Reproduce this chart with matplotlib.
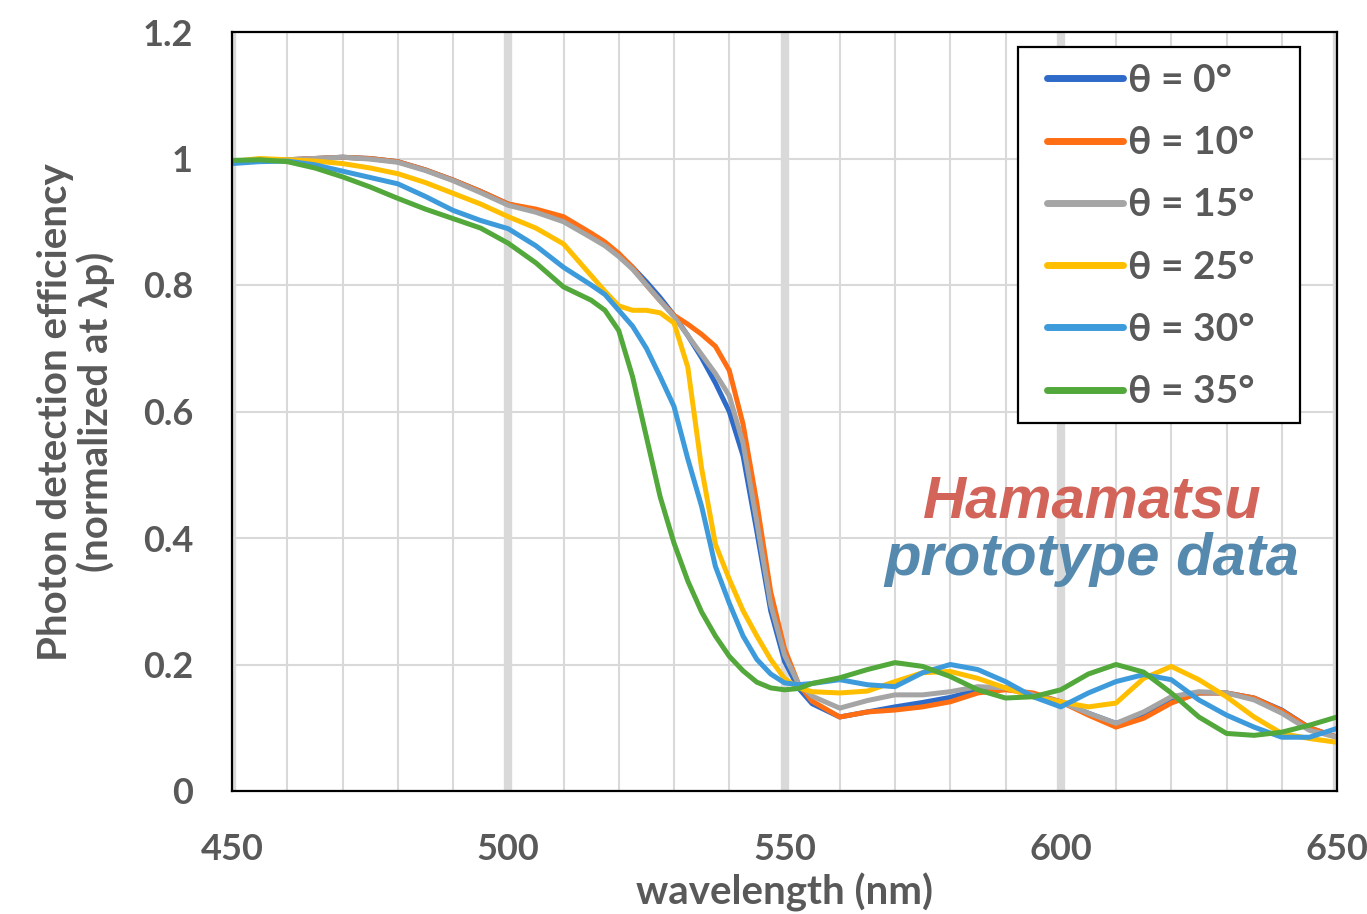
import matplotlib
matplotlib.use("Agg")
import matplotlib.pyplot as plt
from matplotlib.patches import Rectangle

# wavelength grid (nm), finer through the steep edge
wavelength = [450, 455, 460, 465, 470, 475, 480, 485, 490, 495, 500, 505, 510, 515,
              517.5, 520, 522.5, 525, 527.5, 530, 532.5, 535, 537.5, 540, 542.5,
              545, 547.5, 550, 552.5,
              555, 560, 565, 570, 575, 580, 585, 590, 595, 600, 605, 610, 615,
              620, 625, 630, 635, 640, 645, 650]

theta0 = [0.995, 0.996, 0.998, 1.000, 1.002, 1.000, 0.995, 0.982, 0.966, 0.948, 0.928, 0.918, 0.905, 0.880,
          0.865, 0.848, 0.828, 0.805, 0.780, 0.752, 0.720, 0.685, 0.645, 0.600, 0.530,
          0.410, 0.285, 0.205, 0.163,
          0.138, 0.117, 0.125, 0.133, 0.140, 0.148, 0.160, 0.163, 0.152, 0.141, 0.123, 0.107, 0.120,
          0.142, 0.155, 0.155, 0.147, 0.128, 0.100, 0.085]

theta10 = [0.995, 0.996, 0.998, 1.000, 1.002, 1.000, 0.995, 0.982, 0.966, 0.948, 0.928, 0.920, 0.908, 0.882,
           0.868, 0.850, 0.828, 0.800, 0.775, 0.752, 0.738, 0.722, 0.703, 0.665, 0.580,
           0.455, 0.315, 0.225, 0.170,
           0.142, 0.117, 0.125, 0.128, 0.133, 0.141, 0.155, 0.160, 0.155, 0.141, 0.120, 0.101, 0.115,
           0.139, 0.155, 0.155, 0.147, 0.127, 0.100, 0.085]

theta15 = [0.995, 0.996, 0.998, 1.000, 1.002, 0.999, 0.994, 0.981, 0.965, 0.946, 0.926, 0.915, 0.900, 0.875,
           0.862, 0.845, 0.825, 0.800, 0.775, 0.750, 0.720, 0.690, 0.660, 0.625, 0.550,
           0.425, 0.295, 0.215, 0.170,
           0.150, 0.131, 0.143, 0.152, 0.152, 0.157, 0.165, 0.163, 0.152, 0.141, 0.123, 0.107, 0.125,
           0.149, 0.157, 0.155, 0.144, 0.123, 0.096, 0.085]

theta25 = [0.995, 1.000, 0.998, 0.996, 0.992, 0.985, 0.976, 0.962, 0.945, 0.928, 0.908, 0.890, 0.865, 0.815,
           0.790, 0.767, 0.760, 0.760, 0.756, 0.740, 0.670, 0.510, 0.390, 0.335, 0.285,
           0.245, 0.208, 0.178, 0.163,
           0.157, 0.155, 0.158, 0.173, 0.187, 0.189, 0.178, 0.163, 0.149, 0.141, 0.133, 0.139, 0.178,
           0.197, 0.176, 0.149, 0.117, 0.091, 0.083, 0.077]

theta30 = [0.992, 0.995, 0.996, 0.990, 0.980, 0.970, 0.960, 0.940, 0.918, 0.902, 0.889, 0.862, 0.828, 0.800,
           0.785, 0.760, 0.735, 0.700, 0.655, 0.608, 0.525, 0.450, 0.355, 0.297, 0.245,
           0.208, 0.185, 0.171, 0.168,
           0.170, 0.176, 0.168, 0.165, 0.187, 0.200, 0.192, 0.173, 0.149, 0.133, 0.155, 0.173, 0.184,
           0.176, 0.144, 0.120, 0.101, 0.085, 0.085, 0.099]

theta35 = [0.997, 0.998, 0.995, 0.985, 0.971, 0.955, 0.937, 0.920, 0.905, 0.890, 0.866, 0.835, 0.797, 0.776,
           0.760, 0.728, 0.655, 0.560, 0.465, 0.392, 0.332, 0.283, 0.245, 0.213, 0.190,
           0.172, 0.163, 0.160, 0.162,
           0.170, 0.179, 0.192, 0.203, 0.197, 0.181, 0.160, 0.147, 0.149, 0.160, 0.185, 0.200, 0.188,
           0.155, 0.117, 0.091, 0.088, 0.093, 0.104, 0.117]

series = [theta0, theta10, theta15, theta25, theta30, theta35]
labels = ["θ = 0°", "θ = 10°", "θ = 15°", "θ = 25°", "θ = 30°", "θ = 35°"]
colors = ["#2e6bc8", "#ff6e12", "#a5a5a5", "#ffbf00", "#3d9bdb", "#52a83a"]

FONT = ["Lato", "DejaVu Sans"]
TXT = "#595959"
plt.rcParams["font.family"] = FONT
plt.rcParams["font.weight"] = "bold"

W, H = 1367, 914
fig = plt.figure(figsize=(W / 100, H / 100), dpi=100)
ax = fig.add_axes([232 / W, 1 - 791 / H, (1337 - 232) / W, (791 - 32) / H])

for y, lab, c in zip(series, labels, colors):
    ax.plot(wavelength, y, color=c, lw=3.6, label=lab,
            solid_capstyle="round", solid_joinstyle="round")

ax.set_xlim(450, 650)
ax.set_ylim(0, 1.2)
ax.set_xticks([450, 500, 550, 600, 650])
ax.set_xticks(range(450, 651, 10), minor=True)
ax.set_yticks([0, 0.2, 0.4, 0.6, 0.8, 1.0, 1.2])
ax.set_yticklabels(["0", "0.2", "0.4", "0.6", "0.8", "1", "1.2"])

ax.grid(axis="x", which="major", color="#d9d9d9", lw=6)
ax.grid(axis="x", which="minor", color="#d9d9d9", lw=1.5)
ax.grid(axis="y", which="major", color="#d9d9d9", lw=1.5)
ax.set_axisbelow(True)

ax.tick_params(which="both", length=0)
ax.tick_params(axis="x", pad=30, labelsize=26, labelcolor=TXT)
ax.tick_params(axis="y", pad=28, labelsize=26, labelcolor=TXT)

for s in ax.spines.values():
    s.set_color("black")
    s.set_linewidth(1.6)

ax.set_xlabel("wavelength (nm)", fontsize=29, color=TXT, fontweight="bold", labelpad=5)
fig.text(76 / W, 1 - 412 / H, "Photon detection efficiency\n(normalized at λp)",
         rotation=90, ha="center", va="center", fontsize=29, color=TXT,
         fontweight="bold", linespacing=1.1)

# legend box drawn separately so the padding matches the original
ax.add_patch(Rectangle((1018 / W, 1 - 423 / H), 282 / W, 376 / H,
                       transform=fig.transFigure, facecolor="white",
                       edgecolor="black", lw=1.6, zorder=4.5, clip_on=False))
leg = ax.legend(loc="upper left", bbox_to_anchor=(1047 / W, 1 - 63 / H),
                bbox_transform=fig.transFigure, borderaxespad=0, borderpad=0,
                fontsize=28, handlelength=1.95, handletextpad=0.12,
                labelspacing=0.70, frameon=False)
leg.set_zorder(6)
for t in leg.get_texts():
    t.set_color(TXT)
for h in leg.get_lines():
    h.set_linewidth(5)

ax.text(0.779, 0.36, "Hamamatsu", transform=ax.transAxes, ha="center", va="baseline",
        fontsize=43, fontweight="bold", style="italic", color="#d2645a",
        family=["Liberation Sans", "DejaVu Sans"])
ax.text(0.778, 0.284, "prototype data", transform=ax.transAxes, ha="center", va="baseline",
        fontsize=43, fontweight="bold", style="italic", color="#5589ad",
        family=["Liberation Sans", "DejaVu Sans"])

fig.savefig("out.png", dpi=100)
